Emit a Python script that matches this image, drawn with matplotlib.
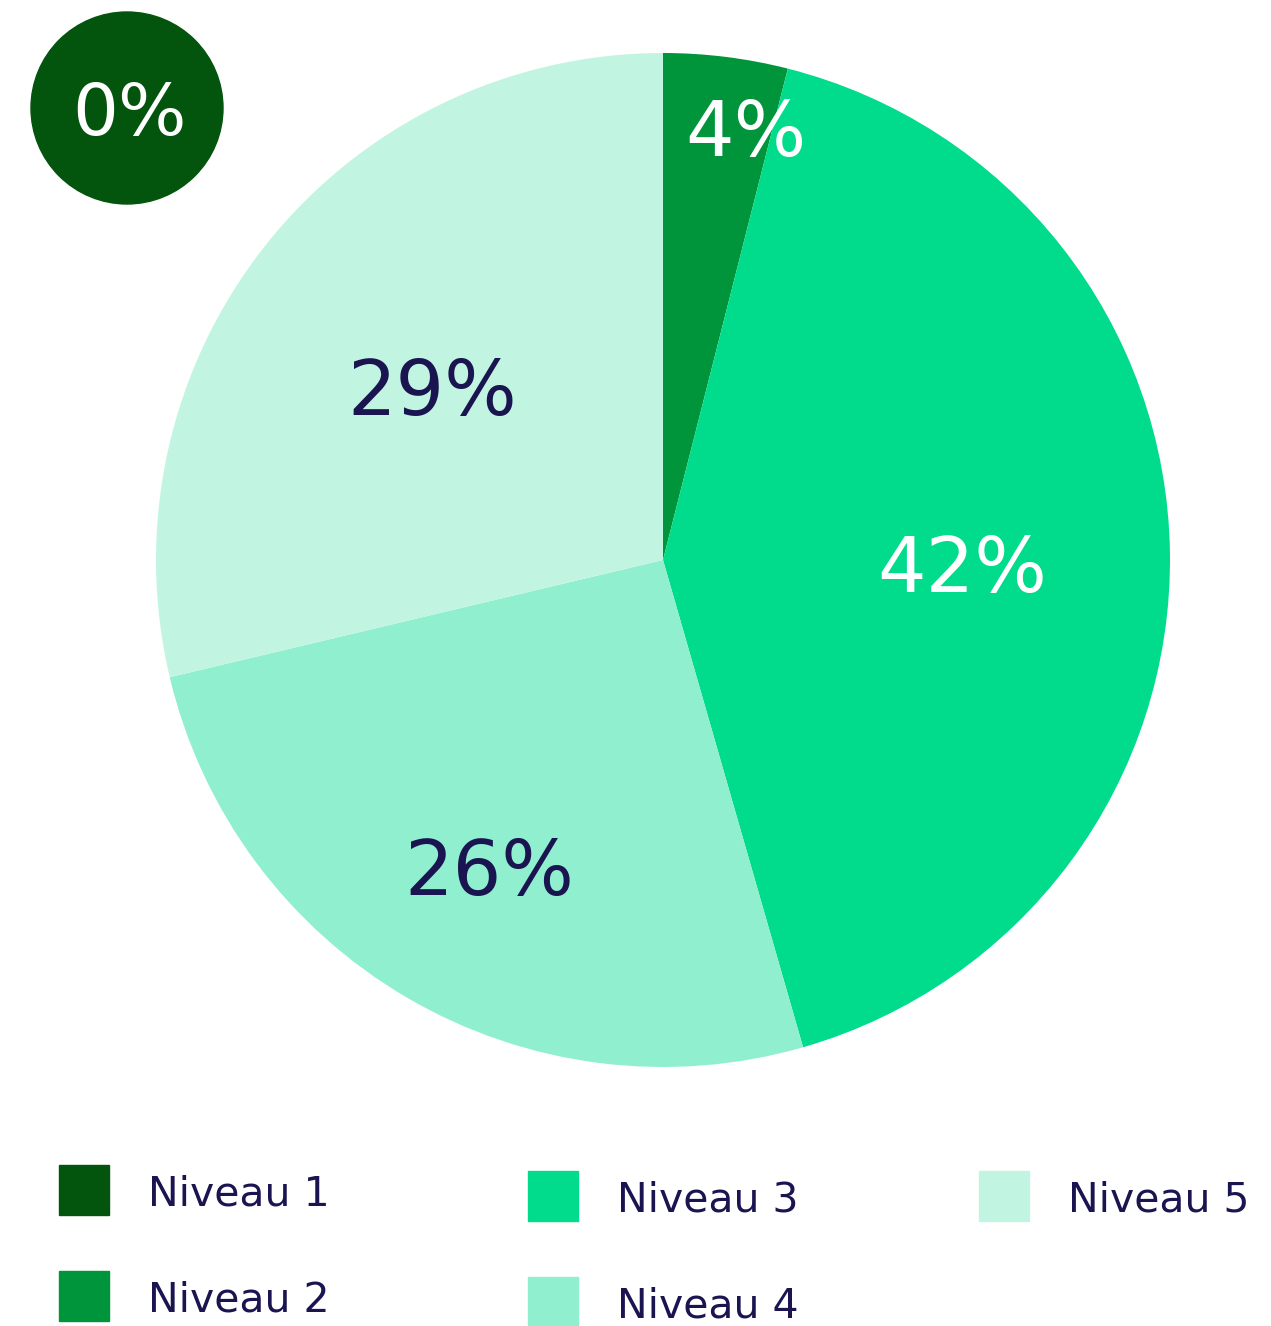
import numpy as np
import matplotlib
matplotlib.use("Agg")
import matplotlib.pyplot as plt
from matplotlib.patches import Circle, Rectangle

# data
levels = ["Niveau 1", "Niveau 2", "Niveau 3", "Niveau 4", "Niveau 5"]
shares = [0, 4, 42, 26, 29]
colors = ["#03540d", "#00953a", "#00dc8c", "#8fefcf", "#c2f5e1"]
label_colors = ["white", "white", "white", "#1a1550", "#1a1550"]

# layout
W, H = 1271, 1326
label_radius = [0, 0.885, 0.59, 0.68, 0.58]
label_turn = [0, -3.5, 0, 0, 0]   # degrees, nudges the label off the mid angle
navy = "#1a1550"
font = ["DejaVu Sans"]

fig = plt.figure(figsize=(W / 100, H / 100), dpi=100)
ax = fig.add_axes([156 / W, 1 - 1067 / H, 1014 / W, 1014 / H])

wedges, _ = ax.pie(shares, colors=colors, startangle=90, counterclock=False,
                   radius=1, wedgeprops=dict(linewidth=0))
ax.set_xlim(-1, 1)
ax.set_ylim(-1, 1)
ax.set_aspect("equal")
ax.axis("off")

for w, val, col, r, turn in zip(wedges, shares, label_colors, label_radius, label_turn):
    if val == 0:
        continue
    mid = np.deg2rad((w.theta1 + w.theta2) / 2 + turn)
    ax.text(r * np.cos(mid), r * np.sin(mid) - 0.016, f"{val}%", color=col,
            fontsize=55, ha="center", va="center_baseline", family=font)

# the 0 % slice gets its own badge in the corner
cx, cy, cr = (127 - 663) / 507, (560 - 108) / 507, 96 / 507
ax.add_patch(Circle((cx, cy), cr, color=colors[0], clip_on=False))
ax.text(cx + 0.005, cy, f"{shares[0]}%", color="white", fontsize=52,
        ha="center", va="center_baseline", family=font)

# legend, laid out by hand in pixel positions
legend_pos = [(59, 1165), (59, 1271), (528, 1171), (528, 1277), (979, 1171)]
for name, col, (x, y) in zip(levels, colors, legend_pos):
    fig.add_artist(Rectangle((x / W, 1 - (y + 50) / H), 50 / W, 50 / H,
                             color=col, transform=fig.transFigure))
    fig.text((x + 89) / W, 1 - (y + 25) / H, name, color=navy, fontsize=29.5,
             ha="left", va="center_baseline", family=font)

fig.savefig("out.png", dpi=100)
